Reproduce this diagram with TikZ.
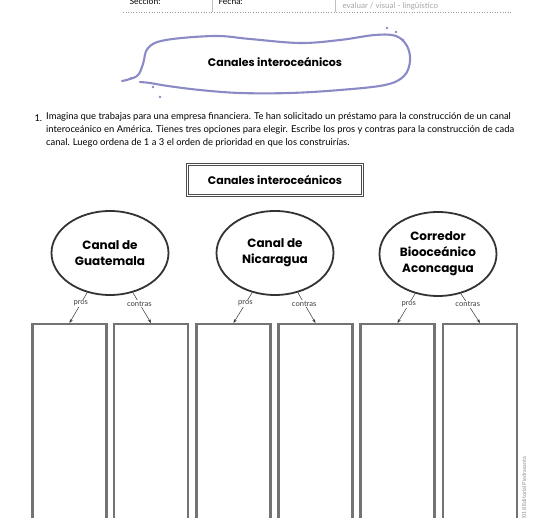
\documentclass[tikz,border=0pt]{standalone}
\usepackage{fontspec}
\setmainfont{Lato}
\newfontfamily\titlefont{Poppins}
\usetikzlibrary{arrows.meta,calc,positioning,shapes.geometric}
\definecolor{lavanda}{HTML}{8A8AC6}
\tikzset{
    myoval/.style={ellipse,draw=black!80,line width=1.8pt,minimum width=117pt,minimum height=84pt,inner sep=0pt,align=center,font=\titlefont\bfseries\fontsize{12}{16}\selectfont},
    mybox/.style={draw=black!55,line width=2.2pt,minimum width=74pt,minimum height=220pt,anchor=north,inner sep=0pt},
    mylabel/.style={font=\fontsize{7.6}{8}\selectfont,text=black!75,fill=white,inner sep=1pt},
    myarrow/.style={black!80,line width=0.5pt,-{Stealth[length=4pt,width=3pt]}},
    mytitle/.style={font=\titlefont\bfseries\fontsize{11}{13}\selectfont},
    every node/.style={font=\small}
}

\begin{document}
\begin{tikzpicture}[x=1pt,y=-1pt]
  \useasboundingbox (0,0) rectangle (550,518);

  % encabezado
  \node[anchor=west,font=\fontsize{8.5}{10}\selectfont] (seccion) at (126,1) {Sección:};
  \node[anchor=west,font=\fontsize{8.5}{10}\selectfont] (fecha) at (215,1) {Fecha:};
  \node[anchor=west,font=\fontsize{8}{10}\selectfont,text=black!35] (indicador) at (339,6) {evaluar / visual - lingüístico};
  \draw[black!25,line width=0.6pt] (212,0) -- (212,12);
  \draw[black!25,line width=0.6pt] (335,0) -- (335,12);
  \draw[black!40,dotted,line width=0.6pt] (123,12.5) -- (512,12.5);

  % nube del titulo
  \draw[lavanda,line width=2.1pt,line cap=round] plot[smooth,tension=0.6] coordinates {
    (122,81) (137,76) (143,64) (148,48) (166,40) (215,36) (250,39) (300,43)
    (340,40) (375,35) (396,36) (407,46) (410,61) (404,76) (385,85) (340,90)
    (290,93) (240,93) (200,90) (168,86) (150,83) (140,82)};
  \foreach \P in {(387,28),(403,40),(160,97),(153,87),(131,78),(396,32)}{
    \fill[lavanda] \P circle (1.3pt);
  }
  \node[mytitle] (titulo) at (275,62) {Canales interoceánicos};

  % enunciado
  \node[anchor=west,font=\fontsize{9.4}{13}\selectfont] (num) at (31,118) {1.};
  \node[anchor=north west,align=left,inner sep=0pt,font=\fontsize{9.4}{13}\selectfont] (enunciado) at (46,112)
    {Imagina que trabajas para una empresa financiera. Te han solicitado un préstamo para la construcción de un canal\\
     interoceánico en América. Tienes tres opciones para elegir. Escribe los pros y contras para la construcción de cada\\
     canal. Luego ordena de 1 a 3 el orden de prioridad en que los construirías.};

  % organizador
  \node[mytitle,draw=black!70,line width=0.8pt,double,double distance=1.6pt,minimum width=175pt,minimum height=31pt] (central) at (275,180) {Canales interoceánicos};

  \node[myoval] (o1) at (110,253) {Canal de\\Guatemala};
  \node[myoval] (o2) at (275,253) {Canal de\\Nicaragua};
  \node[myoval] (o3) at (438,254) {Corredor\\Biooceánico\\Aconcagua};

  \foreach \x [count=\i] in {69.5,151,233.5,315.5,397.5,480}{
    \node[mybox] (b\i) at (\x,323) {};
  }

  \foreach \o/\p/\c in {o1/b1/b2,o2/b3/b4,o3/b5/b6}{
    \draw[myarrow] (\o.-120) -- node[mylabel,pos=0.36] (pros-\o) {pros} (\p.north);
    \draw[myarrow] (\o.-60) -- node[mylabel,pos=0.36] (contras-\o) {contras} (\c.north);
  }

  % pie
  \node[rotate=90,anchor=west,font=\fontsize{5.5}{6}\selectfont,text=black!45] (editorial) at (524,530) {© 2018 Editorial Piedrasanta};
\end{tikzpicture}
\end{document}
